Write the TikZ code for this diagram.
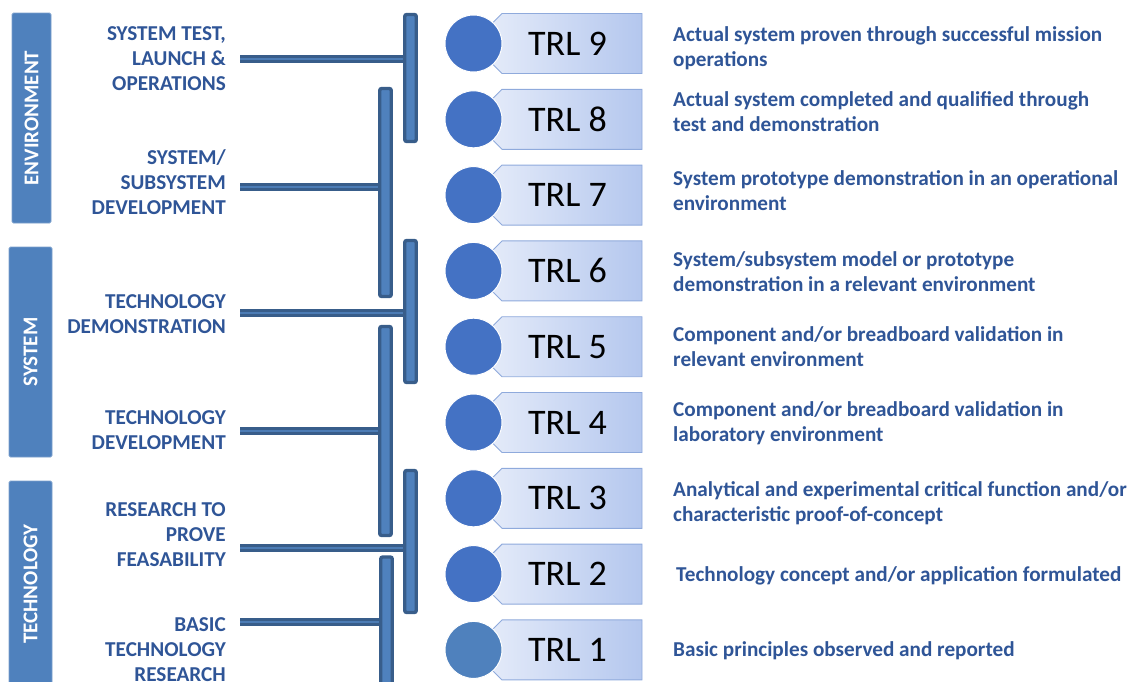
\documentclass[tikz,border=0pt]{standalone}
\usepackage{fontspec}
\usetikzlibrary{backgrounds}
\setmainfont{Carlito}
\definecolor{barblue}{HTML}{4F81BD}
\definecolor{bardark}{HTML}{385D8A}
\definecolor{dotblue}{HTML}{4472C4}
\definecolor{dotpale}{HTML}{4F81BD}
\definecolor{textblue}{HTML}{2F5597}
\definecolor{boxleft}{HTML}{E3EAF9}
\definecolor{boxright}{HTML}{B4C7EE}
\definecolor{boxedge}{HTML}{8FAADC}
\tikzset{
  sidebar/.style={fill=barblue, draw=barblue!75!white, line width=0.8pt,
    rounded corners=1.5pt, inner sep=0pt, rotate=90, text=white,
    font=\fontsize{21}{25}\selectfont\bfseries},
  bracket/.style={fill=barblue, draw=bardark, line width=3.4pt,
    rounded corners=2pt, minimum width=11.5, inner sep=0pt},
  pipe/.style={draw=bardark, line width=3pt, double=barblue!85!bardark, double distance=1.8pt},
  stage/.style={anchor=base east, align=right, text=textblue, inner sep=0pt,
    font=\fontsize{21.2}{25}\selectfont\bfseries},
  desc/.style={anchor=base west, align=left, text=textblue, inner sep=0pt,
    font=\fontsize{21.2}{25}\selectfont\bfseries},
  trlbox/.style={left color=boxleft, right color=boxright, draw=boxedge, line width=0.9pt},
  trltext/.style={inner sep=0pt, font=\fontsize{36}{40}\selectfont},
  dot/.style={circle, minimum size=57, inner sep=0pt, draw=white, line width=1pt}
}
\begin{document}
\begin{tikzpicture}[x=1pt, y=-1pt]
\useasboundingbox (0,0) rectangle (1130,681);
\clip (0,0) rectangle (1130,681);

% readiness bands on the far left
\node[sidebar, minimum width=210, minimum height=39] (env) at (31.5,118) {ENVIRONMENT};
\node[sidebar, minimum width=210, minimum height=43] (sys) at (30.5,352) {SYSTEM};
\node[sidebar, minimum width=206, minimum height=43] (tech) at (30.5,584) {TECHNOLOGY};

% development stages (anchored on the baseline of their last line)
\node[stage] (s9) at (226,90.7) {SYSTEM TEST,\\LAUNCH \&\\OPERATIONS};
\node[stage] (s8) at (226,214) {SYSTEM/\\SUBSYSTEM\\DEVELOPMENT};
\node[stage] (s6) at (226,333.3) {TECHNOLOGY\\DEMONSTRATION};
\node[stage] (s4) at (226,449) {TECHNOLOGY\\DEVELOPMENT};
\node[stage] (s3) at (226,566.7) {RESEARCH TO\\PROVE\\FEASABILITY};
\node[stage] (s1) at (226,681.7) {BASIC\\TECHNOLOGY\\RESEARCH};

% stage brackets
\node[bracket, minimum height=127] (brA) at (410.5,78) {};
\node[bracket, minimum height=208] (brB) at (385.5,192.5) {};
\node[bracket, minimum height=142] (brC) at (410.5,311.5) {};
\node[bracket, minimum height=209] (brD) at (385.5,431) {};
\node[bracket, minimum height=142] (brE) at (410.5,541.5) {};
\node[bracket, minimum height=150] (brF) at (386.5,632) {};

% arms from each stage to its bracket
\coordinate (pA) at (240,59);
\coordinate (pB) at (240,187);
\coordinate (pC) at (240,313);
\coordinate (pD) at (240,431);
\coordinate (pE) at (240,548);
\coordinate (pF) at (240,622);
\begin{scope}[on background layer]
\draw[pipe] (pA) -- (pA -| brA.center);
\draw[pipe] (pB) -- (pB -| brB.center);
\draw[pipe] (pC) -- (pC -| brC.center);
\draw[pipe] (pD) -- (pD -| brD.center);
\draw[pipe] (pE) -- (pE -| brE.center);
\draw[pipe] (pF) -- (pF -| brF.center);
\end{scope}

% readiness levels
\foreach \n/\c in {9/dotblue,8/dotblue,7/dotblue,6/dotblue,5/dotblue,4/dotblue,3/dotblue,2/dotblue,1/dotpale}{
  \pgfmathsetmacro\cy{43.5+(9-\n)*75.8}
  \path[trlbox] (493,\cy-21) -- (502,\cy-30) -- (642,\cy-30) -- (642,\cy+30)
    -- (502,\cy+30) -- (493,\cy+21) -- cycle;
  \node[trltext] (trl\n) at (567.5,\cy) {TRL \n};
  \node[dot, fill=\c] (dot\n) at (473.5,\cy) {};
}

% level descriptions (anchored on the baseline of their last line)
\node[desc] (d9) at (673,66) {Actual system proven through successful mission\\operations};
\node[desc] (d8) at (673,131.7) {Actual system completed and qualified through\\test and demonstration};
\node[desc] (d7) at (673,210) {System prototype demonstration in an operational\\environment};
\node[desc] (d6) at (673,291.7) {System/subsystem model or prototype\\demonstration in a relevant environment};
\node[desc] (d5) at (673,366.7) {Component and/or breadboard validation in\\relevant environment};
\node[desc] (d4) at (673,441.7) {Component and/or breadboard validation in\\laboratory environment};
\node[desc] (d3) at (673,521) {Analytical and experimental critical function and/or\\characteristic proof-of-concept};
\node[desc] (d2) at (676,581) {Technology concept and/or application formulated};
\node[desc] (d1) at (673,656) {Basic principles observed and reported};
\end{tikzpicture}
\end{document}
